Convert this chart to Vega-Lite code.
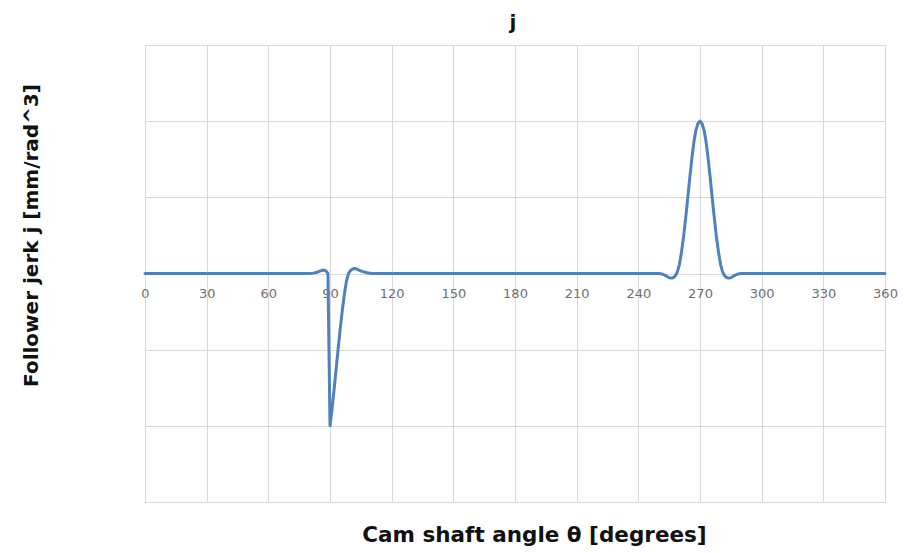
{
  "$schema": "https://vega.github.io/schema/vega-lite/v6.json",
  "autosize": {"type": "none"},
  "padding": {"left": 145, "top": 45, "right": 20, "bottom": 51},
  "width": 740,
  "height": 457,
  "background": "white",
  "title": {"text": "j", "font": "DejaVu Sans", "fontSize": 20, "fontWeight": "bold", "color": "#111111", "offset": 12, "anchor": "middle", "dx": -2},
  "config": {"view": {"stroke": "#d9d9d9"}},
  "data": {"values": [
    {"angle": 0, "j": 0}, {"angle": 30, "j": 0}, {"angle": 60, "j": 0}, {"angle": 80, "j": 0},
    {"angle": 82, "j": 0.005}, {"angle": 84, "j": 0.02}, {"angle": 86, "j": 0.04}, {"angle": 87, "j": 0.045},
    {"angle": 88, "j": 0.035}, {"angle": 89, "j": 0.0}, {"angle": 89.5, "j": -1.0}, {"angle": 90, "j": -2.0},
    {"angle": 91, "j": -1.78}, {"angle": 92, "j": -1.52}, {"angle": 93, "j": -1.25}, {"angle": 94, "j": -0.98},
    {"angle": 95, "j": -0.72}, {"angle": 96, "j": -0.48}, {"angle": 97, "j": -0.27}, {"angle": 98, "j": -0.1},
    {"angle": 99, "j": 0.0}, {"angle": 100, "j": 0.04}, {"angle": 101, "j": 0.06}, {"angle": 102, "j": 0.065},
    {"angle": 103, "j": 0.06}, {"angle": 104, "j": 0.045}, {"angle": 106, "j": 0.025}, {"angle": 108, "j": 0.01},
    {"angle": 110, "j": 0}, {"angle": 150, "j": 0}, {"angle": 200, "j": 0}, {"angle": 250, "j": 0},
    {"angle": 252, "j": -0.01}, {"angle": 253, "j": -0.025}, {"angle": 254, "j": -0.04}, {"angle": 255, "j": -0.055},
    {"angle": 256, "j": -0.06}, {"angle": 257, "j": -0.055}, {"angle": 258, "j": -0.03}, {"angle": 259, "j": 0.02},
    {"angle": 260, "j": 0.12}, {"angle": 261, "j": 0.28}, {"angle": 262, "j": 0.48}, {"angle": 263, "j": 0.72},
    {"angle": 264, "j": 0.98}, {"angle": 265, "j": 1.25}, {"angle": 266, "j": 1.5}, {"angle": 267, "j": 1.72},
    {"angle": 268, "j": 1.88}, {"angle": 269, "j": 1.97}, {"angle": 270, "j": 2.0}, {"angle": 271, "j": 1.97},
    {"angle": 272, "j": 1.88}, {"angle": 273, "j": 1.72}, {"angle": 274, "j": 1.5}, {"angle": 275, "j": 1.25},
    {"angle": 276, "j": 0.98}, {"angle": 277, "j": 0.72}, {"angle": 278, "j": 0.48}, {"angle": 279, "j": 0.28},
    {"angle": 280, "j": 0.12}, {"angle": 281, "j": 0.02}, {"angle": 282, "j": -0.03}, {"angle": 283, "j": -0.055},
    {"angle": 284, "j": -0.06}, {"angle": 285, "j": -0.055}, {"angle": 286, "j": -0.04}, {"angle": 287, "j": -0.025},
    {"angle": 288, "j": -0.01}, {"angle": 290, "j": 0}, {"angle": 330, "j": 0}, {"angle": 360, "j": 0}
  ]},
  "mark": {"type": "line", "color": "#4F81BD", "strokeWidth": 3, "strokeJoin": "round", "strokeCap": "round"},
  "encoding": {
    "x": {
      "field": "angle", "type": "quantitative",
      "scale": {"domain": [0, 360], "nice": false, "zero": false},
      "axis": {
        "values": [0, 30, 60, 90, 120, 150, 180, 210, 240, 270, 300, 330, 360],
        "title": "Cam shaft angle θ [degrees]",
        "titleFont": "DejaVu Sans", "titleFontSize": 21.5, "titleFontWeight": "bold", "titleColor": "#111111",
        "titlePadding": 22, "titleX": 389,
        "grid": true, "gridColor": "#d9d9d9", "gridWidth": 1,
        "domain": false, "ticks": false, "tickSize": 0,
        "labelPadding": -215, "labelFont": "DejaVu Sans", "labelFontSize": 13, "labelColor": "#707070",
        "labelFlush": false, "labelOverlap": false
      }
    },
    "y": {
      "field": "j", "type": "quantitative",
      "scale": {"domain": [-3, 3], "nice": false},
      "axis": {
        "values": [-3, -2, -1, 0, 1, 2, 3],
        "title": "Follower jerk j [mm/rad^3]",
        "titleFont": "DejaVu Sans", "titleFontSize": 20, "titleFontWeight": "bold", "titleColor": "#111111",
        "titlePadding": 104, "titleY": 190,
        "grid": true, "gridColor": "#d9d9d9", "gridWidth": 1,
        "domain": false, "ticks": false, "labels": false
      }
    }
  }
}
